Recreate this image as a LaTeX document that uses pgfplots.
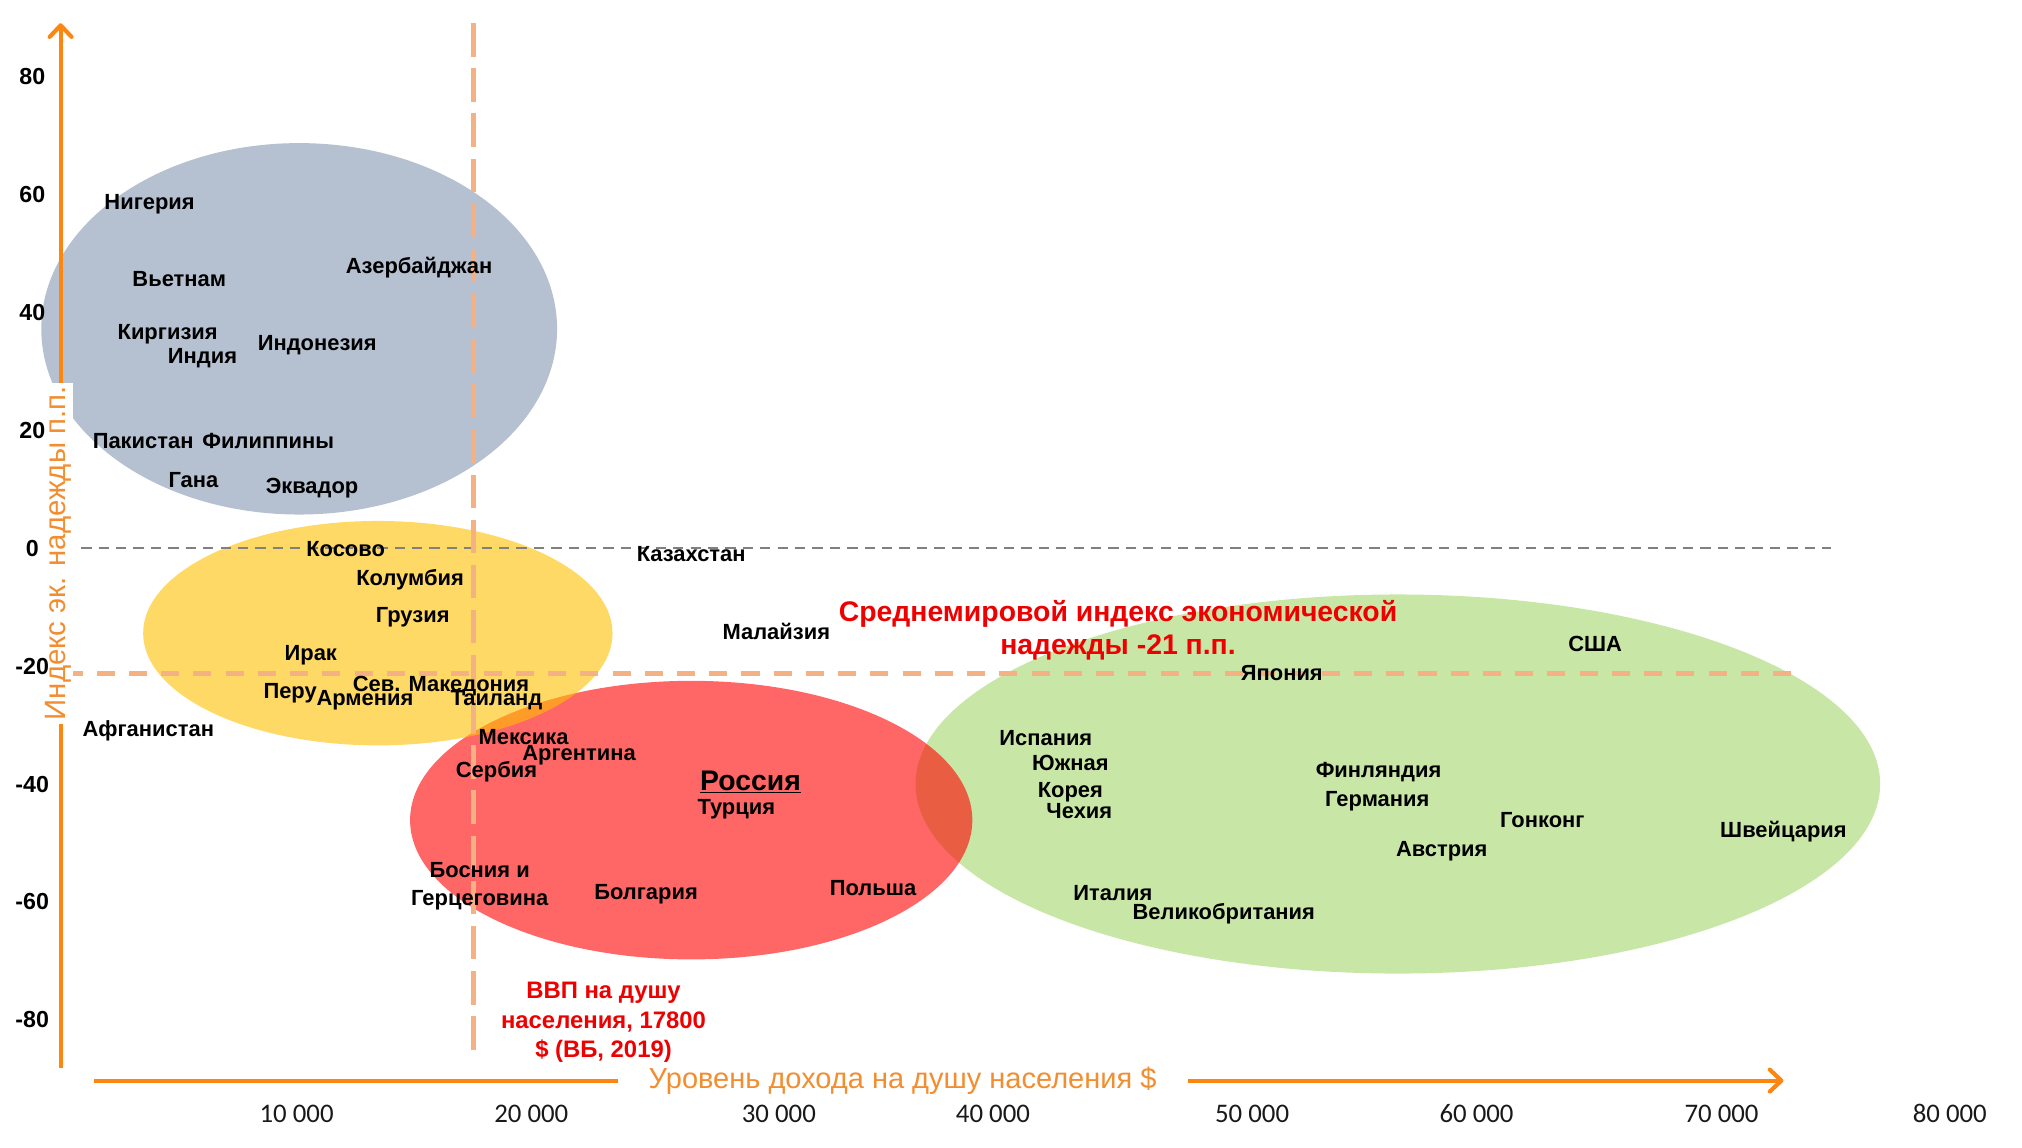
\documentclass[border=0pt]{standalone}
\usepackage{pgfplots}
\pgfplotsset{compat=1.18}
\usepackage{fontspec}
\setmainfont{Liberation Sans}
\newfontfamily\carlito{Carlito}
\usetikzlibrary{arrows.meta}
\definecolor{axorange}{RGB}{253,134,16}
\definecolor{lblorange}{RGB}{242,142,48}
\definecolor{salmon}{RGB}{244,177,131}
\definecolor{dgray}{RGB}{128,128,128}
\definecolor{ellgreen}{RGB}{146,208,80}
\definecolor{ellred}{RGB}{255,0,0}
\definecolor{ellyellow}{RGB}{255,192,0}
\definecolor{ellblue}{RGB}{132,151,176}
\definecolor{redtxt}{RGB}{238,0,0}

\begin{document}
\begin{tikzpicture}
\begin{axis}[
  scale only axis, width=1568pt, height=890pt,
  xmin=-2245, xmax=83392, ymin=-101.64, ymax=92.90,
  hide axis, clip=false,
  lbl/.style={draw=none, mark=none, nodes near coords, point meta=explicit symbolic,
    nodes near coords align={center},
    every node near coord/.append style={anchor=center, inner sep=0pt, text=black, yshift=-1.5pt,
      align=center, font=\bfseries\fontsize{17}{21}\selectfont}},
]
\path (rel axis cs:0,0) rectangle (rel axis cs:1,1);

% group ellipses
\fill[ellgreen, fill opacity=0.5] (axis cs:56958,-40.0) ellipse [x radius=20426, y radius=32.13];
\fill[ellred, fill opacity=0.6] (axis cs:27029,-46.12) ellipse [x radius=11906, y radius=23.61];
\fill[ellyellow, fill opacity=0.6] (axis cs:13758,-14.43) ellipse [x radius=9940, y radius=19.02];
\fill[ellblue, fill opacity=0.6] (axis cs:10426,37.16) ellipse [x radius=10923, y radius=31.48];

% reference lines
\addplot[dgray, line width=1.5pt, dash pattern=on 8pt off 5.5pt] coordinates {(1196,0) (75309,0)};
\addplot[salmon, line width=3.5pt, dash pattern=on 14pt off 11pt] coordinates {(486,-21.3) (73943,-21.3)};
\addplot[salmon, line width=3.5pt, dash pattern=on 26pt off 9pt] coordinates {(17800,88.96) (17800,-86.34)};

% axes arrows
\addplot[axorange, line width=3.2pt, -{Straight Barb[round, length=9pt, width=17pt]}] coordinates {(322,-88.09) (322,88.96)};
\addplot[axorange, line width=3.2pt, -{Straight Barb[round, length=9pt, width=17pt]}] coordinates {(1742,-90.27) (73289,-90.27)};

% axis titles
\node[rotate=90, fill=white, text=lblorange, inner xsep=3pt, inner ysep=1.5pt,
  font=\fontsize{22.8}{26}\selectfont] at (axis cs:213,-0.9) {Индекс эк. надежды п.п.};
\node[fill=white, text=lblorange, inner xsep=24pt, inner ysep=2pt,
  font=\fontsize{22.5}{26}\selectfont] at (axis cs:35986,-90.27) {Уровень дохода на душу населения \$};

% y tick labels
\begin{scope}[every node/.style={font=\bfseries\fontsize{18}{20}\selectfont, text=black}]
\node at (axis cs:-879,80) {80};
\node at (axis cs:-879,60) {60};
\node at (axis cs:-879,40) {40};
\node at (axis cs:-879,20) {20};
\node at (axis cs:-879,0) {0};
\node at (axis cs:-879,-20) {-20};
\node at (axis cs:-879,-40) {-40};
\node at (axis cs:-879,-60) {-60};
\node at (axis cs:-879,-80) {-80};
\end{scope}
% x tick labels
\begin{scope}[every node/.style={font=\carlito\fontsize{20.8}{24}\selectfont, text=black!90}]
\node at (axis cs:10317,-95.9) {10 000};
\node at (axis cs:20257,-95.9) {20 000};
\node at (axis cs:30743,-95.9) {30 000};
\node at (axis cs:39809,-95.9) {40 000};
\node at (axis cs:50786,-95.9) {50 000};
\node at (axis cs:60290,-95.9) {60 000};
\node at (axis cs:70666,-95.9) {70 000};
\node at (axis cs:80332,-95.9) {80 000};
\end{scope}

% countries
\addplot[lbl] coordinates {
 (4091,58.6) [Нигерия]
 (5347,45.9) [Вьетнам]
 (15505,47.9) [Азербайджан]
 (4855,36.5) [Киргизия]
 (6330,32.6) [Индия]
 (11191,34.8) [Индонезия]
 (3818,18.4) [Пакистан]
 (9115,18.4) [Филиппины]
 (5948,11.8) [Гана]
 (10972,10.5) [Эквадор]
 (12392,0.2) [Косово]
 (27029,-0.7) [Казахстан]
 (15123,-5.0) [Колумбия]
 (15232,-11.4) [Грузия]
 (30634,-13.8) [Малайзия]
 (10918,-17.9) [Ирак]
 (16434,-23.0) [Сев. Македония]
 (10044,-24.3) [Перу]
 (13212,-25.4) [Армения]
 (18782,-25.4) [Таиланд]
 (4036,-30.6) [Афганистан]
 (19929,-31.7) [Мексика]
 (22278,-34.8) [Аргентина]
 (18782,-37.6) [Сербия]
 (28940,-43.9) [Турция]
 (25117,-58.4) [Болгария]
 (34730,-57.3) [Польша]
 (65314,-16.0) [США]
 (52043,-20.8) [Япония]
 (42048,-31.9) [Испания]
 (43468,-44.2) [Чехия]
 (56139,-37.6) [Финляндия]
 (56084,-42.6) [Германия]
 (63075,-45.7) [Гонконг]
 (73289,-47.7) [Швейцария]
 (58815,-51.1) [Австрия]
 (44888,-58.1) [Италия]
 (49585,-61.6) [Великобритания]
};
\addplot[lbl] coordinates {
 (18072,-57.0) [Босния и\\Герцеговина]
 (43086,-38.7) [Южная\\Корея]
};
\addplot[lbl, every node near coord/.append style={font=\bfseries\fontsize{22}{26}\selectfont}]
 coordinates {(29541,-39.3) [\underline{Россия}]};

% annotations
\node[align=center, text=redtxt, font=\bfseries\fontsize{22}{26}\selectfont]
  at (axis cs:45106,-13.9) {Среднемировой индекс экономической\\надежды -21 п.п.};
\node[align=center, text=redtxt, font=\bfseries\fontsize{18.5}{23}\selectfont]
  at (axis cs:23315,-80.4) {ВВП на душу\\населения, 17800\\\$ (ВБ, 2019)};
\end{axis}
\end{tikzpicture}
\end{document}
